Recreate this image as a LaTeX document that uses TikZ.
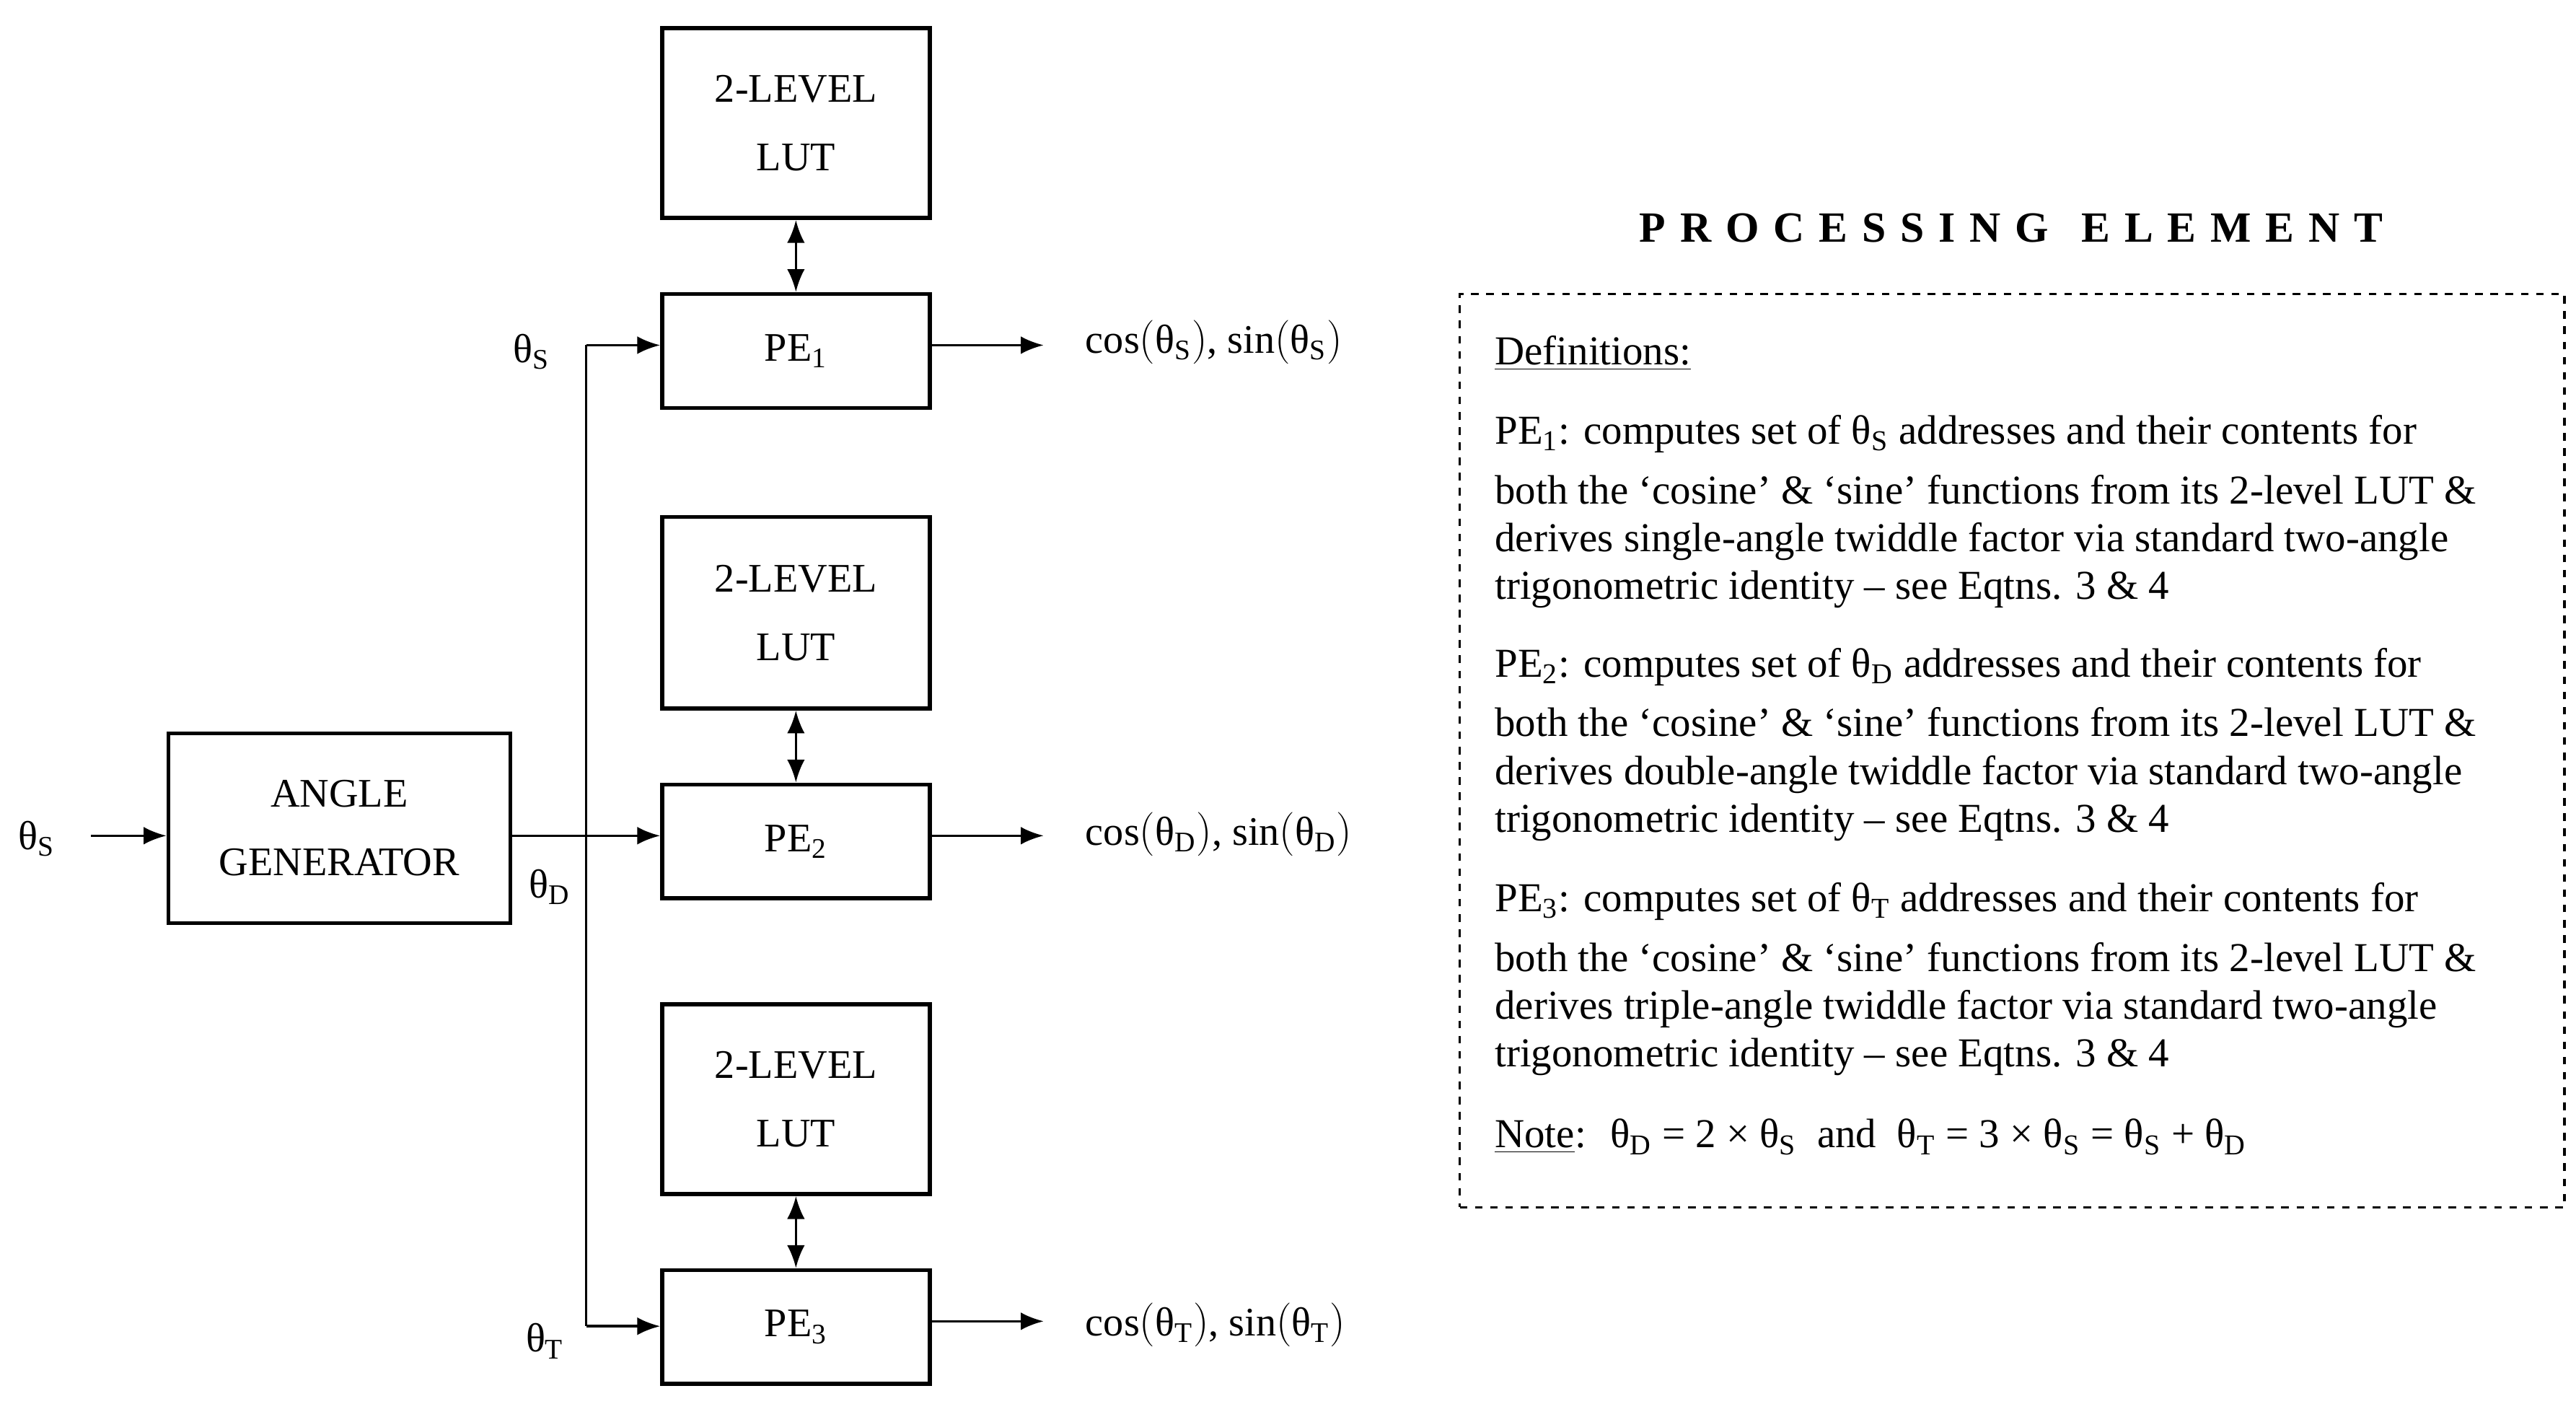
\documentclass[tikz,border=0pt]{standalone}
\usepackage{fontspec}
\setmainfont{Liberation Serif}
\usetikzlibrary{arrows.meta}
\newcommand\tht[1]{θ\textsubscript{#1}}
\begin{document}
\begin{tikzpicture}[x=0.02289cm,y=-0.02289cm,
  blk/.style={draw,line width=1.6pt,inner sep=0pt,font=\fontsize{15}{24}\selectfont,align=center},
  ar/.style={line width=1pt,-{Latex[length=9pt,width=7pt]}},
  dar/.style={line width=1pt,{Latex[length=9pt,width=7pt]}-{Latex[length=9pt,width=7pt]}},
  lbl/.style={font=\fontsize{16}{19}\selectfont},
  dl/.style={anchor=base west,inner sep=0pt,font=\fontsize{16.2}{19}\selectfont}]
\useasboundingbox (0,0) rectangle (1560,850);
\newcommand\blkat[5]{\node[blk,minimum width={(#4-#2)*0.02289cm},minimum height={(#5-#3)*0.02289cm}] (#1) at ({(#2+#4)/2},{(#3+#5)/2}) {};}
\blkat{lut1}{401}{17}{563}{132}
\blkat{pe1}{401}{178}{563}{247}
\blkat{lut2}{401}{313}{563}{429}
\blkat{pe2}{401}{475}{563}{544}
\blkat{lut3}{401}{608}{563}{723}
\blkat{pe3}{401}{769}{563}{838}
\blkat{gen}{102}{444}{309}{559}
\foreach \n in {lut1,lut2,lut3}{\node[lbl,align=center] at (\n) {2-LEVEL\\[8pt]LUT};}
\node[lbl] at (pe1) {PE\textsubscript{1}};
\node[lbl] at (pe2) {PE\textsubscript{2}};
\node[lbl] at (pe3) {PE\textsubscript{3}};
\node[lbl,align=center] at (gen) {ANGLE\\[8pt]GENERATOR};
\foreach \a/\b in {lut1/pe1,lut2/pe2,lut3/pe3}{\draw[dar] (\a) -- (\b);}
\node[lbl] (in) at (22,508) {\tht{S}};
\coordinate (inS) at (55,506);
\draw[ar] (inS) -- (gen.west|-inS);
\draw[ar] (gen.east|-inS) -- (pe2.west|-inS);
\coordinate (vt) at (355,209); \coordinate (vb) at (355,803);
\draw[line width=1pt] (vt) -- (vb);
\draw[ar] (vt) -- (pe1.west|-vt);
\draw[ar] (vb) -- (pe3.west|-vb);
\node[lbl] at (322,213) {\tht{S}};
\node[lbl] at (333,537) {\tht{D}};
\node[lbl] at (330,812) {\tht{T}};
\coordinate (o1) at (632,209); \coordinate (o2) at (632,506); \coordinate (o3) at (632,800);
\draw[ar] (pe1.east|-o1) -- (o1);
\draw[ar] (pe2.east|-o2) -- (o2);
\draw[ar] (pe3.east|-o3) -- (o3);
\node[lbl,anchor=west] at (652,207) {cos$\left(\mbox{\tht{S}}\right)$, sin$\left(\mbox{\tht{S}}\right)$};
\node[lbl,anchor=west] at (652,505) {cos$\left(\mbox{\tht{D}}\right)$, sin$\left(\mbox{\tht{D}}\right)$};
\node[lbl,anchor=west] at (652,802) {cos$\left(\mbox{\tht{T}}\right)$, sin$\left(\mbox{\tht{T}}\right)$};
\node[font=\fontsize{17}{20}\selectfont\bfseries] at (1218,138) {P\,\,R\,\,O\,\,C\,\,E\,\,S\,\,S\,\,I\,\,N\,\,G\ \ \ E\,\,L\,\,E\,\,M\,\,E\,\,N\,\,T};
\node[draw,dashed,line width=1pt,minimum width={669*0.02289cm},minimum height={553*0.02289cm},inner sep=0pt] (box) at (1218.5,454.5) {};
\node[dl] at (905,221) {\underline{Definitions:}};
\node[dl] at (905,269) {PE\textsubscript{1}: computes set of \tht{S} addresses and their contents for};
\node[dl] at (905,305) {both the ‘cosine’ \& ‘sine’ functions from its 2-level LUT \&};
\node[dl] at (905,334) {derives single-angle twiddle factor via standard two-angle};
\node[dl] at (905,363) {trigonometric identity – see Eqtns. 3 \& 4};
\node[dl] at (905,410) {PE\textsubscript{2}: computes set of \tht{D} addresses and their contents for};
\node[dl] at (905,446) {both the ‘cosine’ \& ‘sine’ functions from its 2-level LUT \&};
\node[dl] at (905,475) {derives double-angle twiddle factor via standard two-angle};
\node[dl] at (905,504) {trigonometric identity – see Eqtns. 3 \& 4};
\node[dl] at (905,552) {PE\textsubscript{3}: computes set of \tht{T} addresses and their contents for};
\node[dl] at (905,588) {both the ‘cosine’ \& ‘sine’ functions from its 2-level LUT \&};
\node[dl] at (905,617) {derives triple-angle twiddle factor via standard two-angle};
\node[dl] at (905,646) {trigonometric identity – see Eqtns. 3 \& 4};
\node[dl] at (905,695) {\underline{Note}: \ \tht{D} = 2 × \tht{S} \ and \ \tht{T} = 3 × \tht{S} = \tht{S} + \tht{D}};
\end{tikzpicture}
\end{document}
